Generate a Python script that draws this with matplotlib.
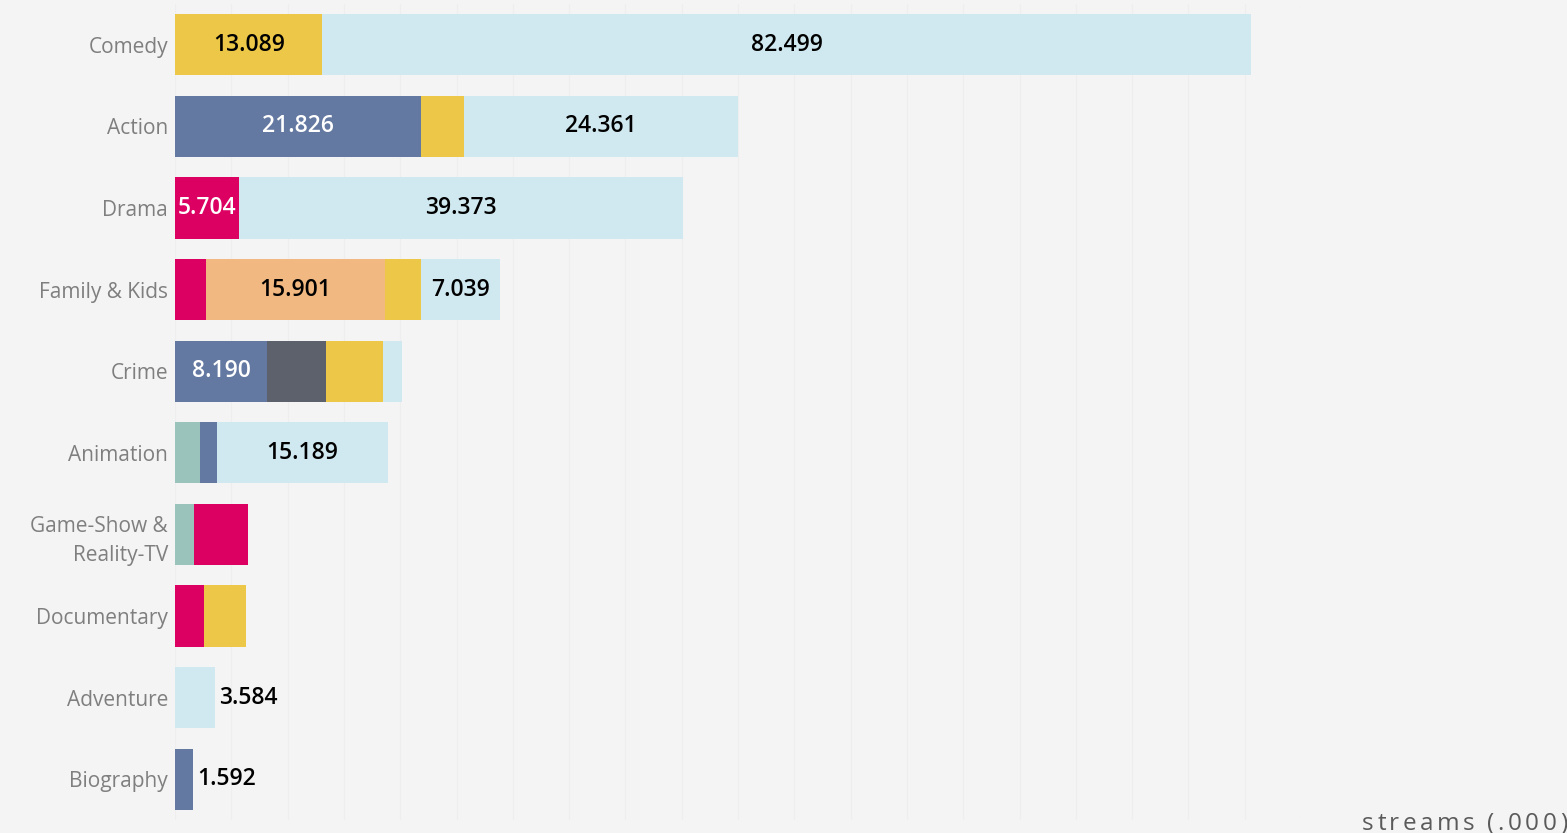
import matplotlib
matplotlib.use("Agg")
import matplotlib.pyplot as plt
import numpy as np

categories = ["Comedy", "Action", "Drama", "Family & Kids", "Crime", "Animation",
              "Game-Show &\nReality-TV", "Documentary", "Adventure", "Biography"]

# stacked segments (thousands of streams), left-to-right stack order
teal      = [0, 0, 0, 0, 0, 2.22, 1.69, 0, 0, 0]
blue      = [0, 21.826, 0, 0, 8.190, 1.51, 0, 0, 0, 1.592]
magenta   = [0, 0, 5.704, 2.75, 0, 0, 4.80, 2.58, 0, 0]
orange    = [0, 0, 0, 15.901, 0, 0, 0, 0, 0, 0]
darkgray  = [0, 0, 0, 0, 5.24, 0, 0, 0, 0, 0]
yellow    = [13.089, 3.80, 0, 3.20, 5.06, 0, 0, 3.73, 0, 0]
lightblue = [82.499, 24.361, 39.373, 7.039, 1.69, 15.189, 0, 0, 3.584, 0]

series = [teal, blue, magenta, orange, darkgray, yellow, lightblue]
colors = ["#9AC3BB", "#6479A1", "#DB0062", "#F2B881", "#5C616B", "#EDC848", "#D0E8EF"]
text_colors = ["black", "white", "white", "black", "white", "black", "black"]

# which segment values carry a label (value strings as shown)
labelled = {
    (0, 5): "13.089", (0, 6): "82.499",
    (1, 1): "21.826", (1, 6): "24.361",
    (2, 2): "5.704", (2, 6): "39.373",
    (3, 3): "15.901", (3, 6): "7.039",
    (4, 1): "8.190",
    (5, 6): "15.189",
    (8, 6): "3.584",
    (9, 1): "1.592",
}
outside = {(8, 6), (9, 1)}
axis_title = "streams (.000)"

bg = "#F4F4F4"
fig = plt.figure(figsize=(15.67, 8.33), dpi=100, facecolor=bg)
ax = fig.add_axes([175 / 1567, 1 - 820 / 833, (1301 - 175) / 1567, 816 / 833])
ax.set_facecolor(bg)

lab_font = dict(fontsize=16.5, family="Open Sans", fontweight="semibold")
y = np.arange(len(categories))
left = np.zeros(len(categories))
for si, (vals, col) in enumerate(zip(series, colors)):
    vals = np.array(vals, dtype=float)
    ax.barh(y, vals, left=left, height=0.75, color=col, edgecolor="none", zorder=2)
    for ci, v in enumerate(vals):
        if (ci, si) in labelled:
            txt = labelled[(ci, si)]
            if (ci, si) in outside:
                ax.text(left[ci] + v + 0.35, y[ci], txt, ha="left", va="center",
                        color="black", zorder=3, **lab_font)
            else:
                ax.text(left[ci] + v / 2, y[ci], txt, ha="center", va="center",
                        color=text_colors[si], zorder=3, **lab_font)
    left += vals

ax.set_xlim(0, 100)
ax.set_ylim(len(categories) - 0.5, -0.5)
ax.set_xticks(np.arange(0, 101, 5))
ax.xaxis.grid(True, color="#EEEEEE", linewidth=0.8, zorder=0)
ax.set_axisbelow(True)
ax.tick_params(axis="x", which="both", length=0, labelbottom=False)
ax.tick_params(axis="y", length=0, pad=5)
ax.set_yticks(y)
ax.set_yticklabels(categories, fontsize=15, color="#7F7F7F", family="Open Sans",
                   linespacing=1.5)
for s in ax.spines.values():
    s.set_visible(False)

# letter-spaced axis title at bottom right
renderer = fig.canvas.get_renderer()
x0_px, x1_px, ybase = 1362, 1567, 830
chars = []
for ch in axis_title:
    t = fig.text(0, ybase / 833, ch, ha="left", va="baseline", fontsize=17.5,
                 color="#5A5A5A", family="Open Sans")
    chars.append(t)
widths = [t.get_window_extent(renderer).width if ch != " " else 5.0
          for t, ch in zip(chars, axis_title)]
track = (x1_px - x0_px - sum(widths)) / (len(axis_title) - 1)
x = x0_px
for t, w in zip(chars, widths):
    t.set_position((x / 1567, 1 - ybase / 833))
    x += w + track

fig.savefig("out.png", dpi=100, facecolor=bg)
